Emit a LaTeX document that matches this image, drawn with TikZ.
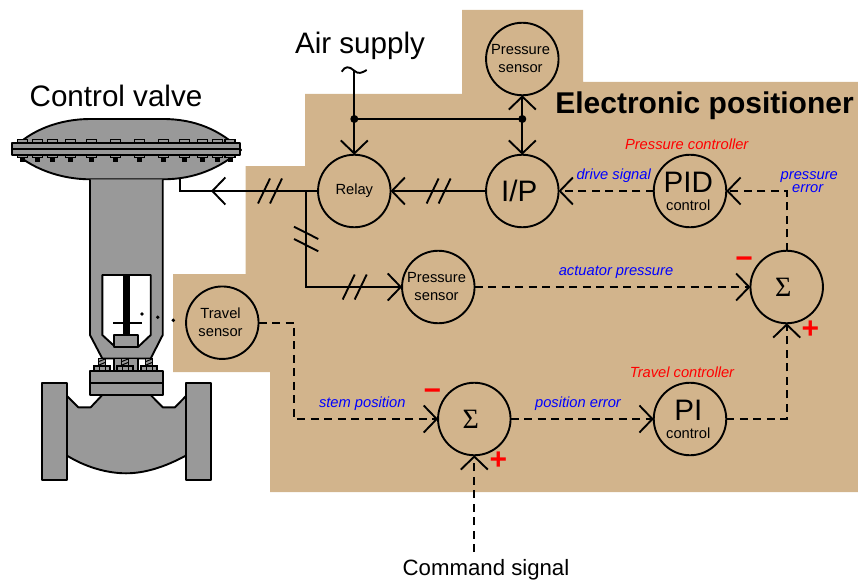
\documentclass[tikz,border=0pt]{standalone}
\usepackage{fontspec}
\setmainfont{Liberation Sans}
\newfontfamily\sigmafont{Liberation Serif}
\usetikzlibrary{arrows.meta,decorations.markings}
\definecolor{housing}{HTML}{D2B48C}
\definecolor{metal}{HTML}{999999}
\tikzset{
	wire/.style={line width=1.9pt},
	sig/.style={line width=1.9pt, dash pattern={on 8pt off 5.5pt}},
	barb/.style={-{Straight Barb[length=13pt,width=27pt,line width=1.9pt]}},
	instr/.style={draw, circle, line width=1.9pt, minimum size=72.5pt, inner sep=0pt, outer sep=0pt, align=center, font=\fontsize{14.7}{18}\selectfont},
	big/.style={font=\fontsize{29.6}{32}\selectfont},
	note/.style={font=\fontsize{14.7}{16}\selectfont\itshape},
	part/.style={draw, fill=metal, line width=1.9pt, line join=round},
	small part/.style={draw, fill=metal, line width=1.2pt},
	sign/.style={text=red, font=\fontsize{30}{30}\selectfont\bfseries, inner sep=0pt}
}
\newcommand{\slashes}[2]{%
	\draw[wire] (#1-12,#2+12.5) -- +(12,-25);
	\draw[wire] (#1,#2+12.5) -- +(12,-25);
}
%two lines of text, a little left of the middle of the circle
\newcommand{\twolines}[2]{#1\hspace*{3.5pt}\\#2\hspace*{3.5pt}}
\newcommand{\sigmatext}{\raisebox{-5pt}{\fontsize{28}{30}\sigmafont\kern-7pt Σ}}
\begin{document}
\begin{tikzpicture}[x=1pt,y=-1pt]
	\useasboundingbox (0,0) rectangle (858,580);
	
	%positioner housing
	\fill[housing] (462,10) -- (583,10) -- (583,82) -- (858,82) -- (858,492) -- (270,492) -- (270,372) -- (173,372) -- (173,274) -- (245.5,274) -- (245.5,166) -- (305,166) -- (305,94) -- (462,94) -- cycle;
	
	%diaphragm
	\draw[part] (12,150) .. controls (30,130) and (60,119) .. (90,119) -- (163,119) .. controls (195,119) and (220,130) .. (241,150) .. controls (220,168) and (195,179.3) .. (163,179.3) -- (90,179.3) .. controls (60,179.3) and (30,168) .. (12,150) -- cycle;
	%yoke
	\draw[part] (90,179.3) -- (90,335) -- (102.3,358.5) -- (150.7,358.5) -- (162.7,335) -- (162.7,179.3);
	\fill[white,draw=black,line width=1.9pt,line join=round] (102.3,275) -- (150.7,275) -- (150.7,335) -- (138.3,346.7) -- (115,346.7) -- (102.3,335) -- cycle;
	\fill (122.7,275) rectangle (130,335);
	\draw[wire] (113.3,322.7) -- (142,322.7);
	\draw[part] (114.3,335) rectangle (138.3,347.3);
	%stem below the yoke
	\draw[part] (114.3,358.5) rectangle (138.3,371);
	%flange of the diaphragm
	\draw[part] (12,142.7) rectangle (240.3,155);
	\draw[line width=2.4pt] (12,149) -- (240.3,149);
	\foreach \bx in {22.7,37.7,52.3,70.3,91.7,115.3,139.7,163.7,184.7,202.3,217.3,230} {
		\draw[small part] (\bx-5,139.8) rectangle (\bx+5,142.7);
		\draw[small part] (\bx-5,155) rectangle (\bx+5,157.5);
		\fill (\bx-2.5,157.5) rectangle (\bx+2.5,161.7);
	}
	%bonnet bolts
	\foreach \bx in {102,125,149} {
		\draw[small part] (\bx-3.5,358.5) rectangle (\bx+3.5,366);
		\draw[line width=1pt] (\bx-3,361.5) -- (\bx+3,359);
		\draw[line width=1pt] (\bx-3,365) -- (\bx+3,362.5);
		\draw[small part] (\bx-8,366) rectangle (\bx+8,371);
		\draw[line width=0.8pt] (\bx-3,366) -- (\bx-3,371);
		\draw[line width=0.8pt] (\bx+3,366) -- (\bx+3,371);
	}
	%valve body
	\draw[part] (66,395) -- (78.3,407.3) -- (90.7,407.3) -- (102.3,395) -- (150.7,395) -- (162.7,407.3) -- (175,407.3) -- (187,395) -- (187,455) .. controls (165,467) and (145,473.3) .. (126,473.3) .. controls (107,473.3) and (85,467) .. (66,455) -- cycle;
	\draw[part] (90,370.7) rectangle (162.7,395.3);
	\draw[wire] (90,383) -- (162.7,383);
	\draw[part] (42,383) rectangle (66.7,480);
	\draw[part] (186,383) rectangle (210.7,480);
	
	\node[big] (VL) at (116,96) {Control valve};
	\node[big] (AS) at (360,46) {Air supply};
	\node[font=\fontsize{30}{32}\selectfont\bfseries] (EP) at (704.5,106) {Electronic positioner};
	\node[font=\fontsize{22.2}{24}\selectfont] (CS) at (486,570) {Command signal};
	
	\node[instr] (PT) at (522.3,59) {\twolines{Pressure}{sensor}};
	\node[instr] (RL) at (354.3,191) {\raisebox{3pt}{Relay}};
	\node[instr,big] (IP) at (522.3,191) {\kern-6pt I/P};
	\node[instr] (PA) at (438.3,287) {\twolines{Pressure}{sensor}};
	\node[instr] (TS) at (222.3,322.7) {\twolines{Travel}{sensor}};
	\node[instr] (PD) at (690,191) {{\fontsize{29.6}{26}\selectfont PID}\hspace*{3.5pt}\\control\hspace*{3.5pt}};
	\node[instr] (PI) at (690,419) {{\fontsize{29.6}{26}\selectfont PI}\hspace*{3.5pt}\\control\hspace*{3.5pt}};
	\node[instr] (SA) at (786.7,287) {\sigmatext};
	\node[instr] (SB) at (474.3,419) {\sigmatext};
	
	\coordinate (J1) at (354.3,119);
	\coordinate (J2) at (522.3,119);
	\coordinate (AT) at (354.3,70);
	\coordinate (BR) at (306,191);
	\coordinate (DI) at (180,179.3);
	\coordinate (TK) at (294,322.7);
	\coordinate (CM) at (474.3,552);
	
	%air lines
	\draw[wire] (AT) -- (J1);
	\draw[wire] (341.7,71.7) .. controls (345,66) and (349,66) .. (354,70.5) .. controls (358,74.5) and (362,73) .. (366.7,70);
	\draw[wire] (J1) -- (J2);
	\fill (J1) circle (4);
	\fill (J2) circle (4);
	\draw[wire,barb] (J1) -- (RL);
	\draw[wire,barb] (J2) -- (PT);
	\draw[wire,barb] (J2) -- (IP);
	\draw[wire,barb] (IP) -- (RL);
	\draw[wire] (RL) -- (BR -| DI) -- (DI);
	\draw[wire,barb] (RL) -- (211,191);
	\draw[wire,barb] (BR) |- (PA);
	\slashes{270}{191}
	\slashes{438.6}{191}
	\slashes{354.7}{287}
	\draw[wire] (294,226.7) -- +(24.3,12.3);
	\draw[wire] (294,239) -- +(24.3,12.3);
	
	%signal lines
	\draw[sig,barb] (PA) -- (SA);
	\draw[sig,barb] (SA) |- (PD);
	\draw[sig,barb] (PD) -- (IP);
	\draw[sig,barb] (PI) -| (SA);
	\draw[sig,barb] (SB) -- (PI);
	\draw[sig,barb] (TS) -| (TK |- SB) -- (SB);
	\draw[sig,barb] (CM) -- (SB);
	
	%feedback linkage
	\fill (142,314) circle (1.9);
	\fill (157.7,317.3) circle (1.9);
	\fill (173.3,320.3) circle (1.9);
	
	\node[note,text=red] (NA) at (686.7,144) {Pressure controller};
	\node[note,text=red] (NB) at (682,372) {Travel controller};
	\node[note,text=blue] (LA) at (613.7,176) {drive signal};
	\node[note,text=blue] (LB) at (809.3,177) {pressure};
	\node[note,text=blue] (LC) at (807.7,189) {error};
	\node[note,text=blue] (LD) at (616,272) {actuator pressure};
	\node[note,text=blue] (LE) at (362.3,404) {stem position};
	\node[note,text=blue] (LF) at (578,404) {position error};
	
	\node[sign] (MA) at (744,262.7) {−};
	\node[sign] (PB) at (810.3,329.3) {+};
	\node[sign] (MC) at (432.3,395) {−};
	\node[sign] (PC) at (498.3,461) {+};
\end{tikzpicture}
\end{document}
